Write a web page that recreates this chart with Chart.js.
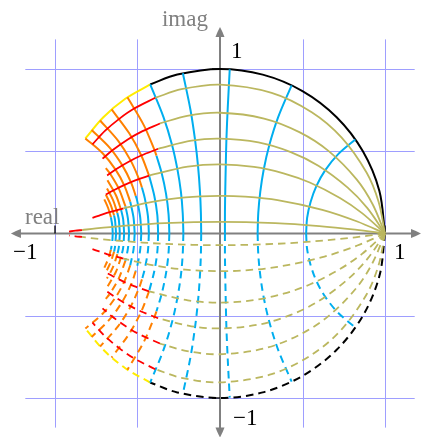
<!DOCTYPE html>
<html>
<head>
<meta charset="utf-8">
<script src="https://cdn.jsdelivr.net/npm/chart.js@4.4.1/dist/chart.umd.min.js"></script>
<style>
  html, body { margin: 0; padding: 0; background: #ffffff; overflow: hidden; }
  canvas { display: block; }
</style>
</head>
<body>
<canvas id="chart" width="422" height="437"></canvas>
<script>
// Bilinear-transform grid in the unit disk: curves of constant damping ratio
// (0.1, 0.3, 0.5, 0.7, 0.9, 0.99) and constant natural frequency (k·π/10).
// Upper half is drawn solid; the lower half is its mirror image, dashed.
// Points are [real, imag].

// constant damping, |Im s| <= pi/2  (olive)
const dampingLow = [
  [[1,0],[0.961,0.193],[0.889,0.369],[0.736,0.584],[0.556,0.737],[0.313,0.855],[0,0.905],[-0.234,0.877],[-0.392,0.825]],
  [[1,0],[0.925,0.178],[0.828,0.329],[0.659,0.501],[0.484,0.615],[0.267,0.699],[0,0.734],[-0.199,0.715],[-0.364,0.669]],
  [[1,0],[0.892,0.156],[0.774,0.279],[0.596,0.412],[0.429,0.495],[0.233,0.554],[0,0.577],[-0.173,0.564],[-0.375,0.515]],
  [[1,0],[0.861,0.124],[0.727,0.216],[0.544,0.310],[0.385,0.366],[0.206,0.405],[0,0.420],[-0.195,0.406],[-0.430,0.352]],
  [[1,0],[0.832,0.073],[0.620,0.144],[0.349,0.203],[0.150,0.224],[0,0.229],[-0.210,0.220],[-0.411,0.192],[-0.585,0.153]],
  [[1,0],[0.820,0.023],[0.602,0.045],[0.335,0.063],[0,0.071],[-0.335,0.063],[-0.602,0.045],[-0.752,0.031],[-0.836,0.021]]
];

// constant damping, pi/2 < |Im s| <= pi  (red)
const dampingHigh = [
  [[-0.392,0.825],[-0.523,0.758],[-0.611,0.697],[-0.696,0.625],[-0.773,0.542]],
  [[-0.364,0.669],[-0.484,0.615],[-0.559,0.572],[-0.650,0.508],[-0.712,0.455]],
  [[-0.375,0.515],[-0.478,0.474],[-0.556,0.435],[-0.628,0.392],[-0.684,0.353]],
  [[-0.430,0.352],[-0.521,0.320],[-0.588,0.291],[-0.647,0.261],[-0.692,0.237]],
  [[-0.585,0.153],[-0.686,0.125],[-0.732,0.109],[-0.773,0.095]],
  [[-0.836,0.021],[-0.876,0.017],[-0.915,0.012]]
];

// constant natural frequency, |Im s| <= pi/2  (cyan)
const freqLow = [
  [[0.522,0],[0.528,0.095],[0.549,0.191],[0.584,0.288],[0.638,0.385],[0.715,0.481],[0.820,0.572]],
  [[0.228,0],[0.232,0.125],[0.244,0.253],[0.265,0.389],[0.299,0.538],[0.352,0.706],[0.434,0.901]],
  [[0.030,0],[0.030,0.132],[0.032,0.268],[0.035,0.414],[0.039,0.577],[0.047,0.766],[0.059,0.998]],
  [[-0.114,0],[-0.116,0.130],[-0.122,0.264],[-0.133,0.408],[-0.151,0.567],[-0.179,0.752],[-0.225,0.974]],
  [[-0.222,0],[-0.226,0.125],[-0.237,0.254],[-0.258,0.390],[-0.291,0.540],[-0.343,0.709],[-0.423,0.906]],
  [[-0.307,0],[-0.312,0.119],[-0.327,0.241],[-0.354,0.369],[-0.385,0.473]],
  [[-0.375,0],[-0.380,0.113],[-0.398,0.228],[-0.430,0.352]],
  [[-0.431,0],[-0.437,0.107],[-0.456,0.215],[-0.473,0.279]],
  [[-0.477,0],[-0.484,0.101],[-0.503,0.204],[-0.511,0.229]],
  [[-0.517,0],[-0.524,0.096],[-0.544,0.193]],
  [[-0.551,0],[-0.558,0.091],[-0.573,0.165]],
  [[-0.581,0],[-0.587,0.087],[-0.599,0.142]],
  [[-0.607,0],[-0.613,0.083],[-0.622,0.125]],
  [[-0.630,0],[-0.636,0.079],[-0.642,0.110]],
  [[-0.650,0],[-0.653,0.050],[-0.661,0.098]]
];

// constant natural frequency, pi/2 < |Im s| <= pi  (orange)
const freqHigh = [
  [[-0.385,0.473],[-0.397,0.507],[-0.462,0.659],[-0.561,0.828]],
  [[-0.430,0.352],[-0.477,0.474],[-0.550,0.609],[-0.657,0.754]],
  [[-0.473,0.279],[-0.489,0.327],[-0.541,0.443],[-0.617,0.563],[-0.727,0.687]],
  [[-0.511,0.229],[-0.538,0.308],[-0.592,0.414],[-0.669,0.522],[-0.778,0.629]],
  [[-0.544,0.193],[-0.579,0.290],[-0.633,0.388],[-0.710,0.486],[-0.816,0.578]],
  [[-0.573,0.165],[-0.614,0.274],[-0.667,0.365],[-0.692,0.397]],
  [[-0.599,0.142],[-0.630,0.231],[-0.682,0.324]],
  [[-0.622,0.125],[-0.648,0.203],[-0.685,0.274]],
  [[-0.642,0.110],[-0.662,0.173],[-0.692,0.237]],
  [[-0.661,0.098],[-0.678,0.155],[-0.701,0.208]]
];

// unit circle (zero damping)
const circleLow  = [[1,0],[0.966,0.259],[0.866,0.5],[0.707,0.707],[0.5,0.866],[0.259,0.966],[0,1],[-0.259,0.966],[-0.423,0.906]];
const circleHigh = [[-0.423,0.906],[-0.574,0.819],[-0.707,0.707],[-0.816,0.578]];

// axes, grid, ticks and labels
const gridValues = [-1, -0.5, 0.5, 1];
const gridExtent = 1.18;
const xAxisRange = [-1.267, 1.218];
const yAxisRange = [-1.240, 1.255];
const tickValues = [-1, 1];
const axisNames = [
  { text: 'real', x: -1.182, y: 0.058, align: 'left' },
  { text: 'imag', x: -0.073, y: 1.261, align: 'right' }
];
const tickLabels = [
  { text: '\u22121', x: -1.255, y: -0.155, align: 'left' },
  { text: '1',       x:  1.055, y: -0.155, align: 'left' },
  { text: '1',       x:  0.067, y:  1.067, align: 'left' },
  { text: '\u22121', x:  0.079, y: -1.164, align: 'left' }
];

const COLORS = {
  olive: 'rgb(187,183,95)',
  red: 'rgb(255,0,0)',
  cyan: 'rgb(0,174,239)',
  orange: 'rgb(255,128,0)',
  black: 'rgb(0,0,0)',
  yellow: 'rgb(255,236,0)',
  grid: 'rgb(158,158,255)',
  axis: 'rgb(128,128,128)'
};
const DASH = [7.5, 5];
const FONT = '23px "Liberation Serif", "Times New Roman", serif';

const datasets = [];
function addCurves(curves, color, width, sign) {
  curves.forEach(curve => {
    datasets.push({
      data: curve.map(p => ({ x: p[0], y: sign * p[1] })),
      borderColor: color,
      borderWidth: width,
      borderDash: sign < 0 ? DASH : [],
      showLine: true,
      pointRadius: 0,
      pointHoverRadius: 0,
      tension: 0.33,
      fill: false
    });
  });
}
[1, -1].forEach(sign => {
  addCurves(dampingLow, COLORS.olive, 1.8, sign);
  addCurves(dampingHigh, COLORS.red, 1.8, sign);
  addCurves(freqLow, COLORS.cyan, 2, sign);
  addCurves(freqHigh, COLORS.orange, 2, sign);
  addCurves([circleLow], COLORS.black, 2, sign);
  addCurves([circleHigh], COLORS.yellow, 2, sign);
});

function arrowHead(ctx, tipX, tipY, dx, dy) {
  const L = 10, W = 4.5;
  const bx = tipX - dx * L, by = tipY - dy * L;
  const nx = -dy, ny = dx;
  ctx.beginPath();
  ctx.moveTo(tipX, tipY);
  ctx.quadraticCurveTo(tipX - dx * L * 0.5 + nx * W * 0.6, tipY - dy * L * 0.5 + ny * W * 0.6, bx + nx * W, by + ny * W);
  ctx.lineTo(bx - nx * W, by - ny * W);
  ctx.quadraticCurveTo(tipX - dx * L * 0.5 - nx * W * 0.6, tipY - dy * L * 0.5 - ny * W * 0.6, tipX, tipY);
  ctx.closePath();
  ctx.fill();
}

const framePlugin = {
  id: 'frame',
  beforeDatasetsDraw(chart) {
    const { ctx, scales } = chart;
    const X = v => scales.x.getPixelForValue(v);
    const Y = v => scales.y.getPixelForValue(v);
    ctx.save();
    // grid
    ctx.strokeStyle = COLORS.grid;
    ctx.lineWidth = 1;
    gridValues.forEach(v => {
      const px = Math.round(X(v)) + 0.5;
      ctx.beginPath(); ctx.moveTo(px, Y(gridExtent)); ctx.lineTo(px, Y(-gridExtent)); ctx.stroke();
      const py = Math.round(Y(v)) + 0.5;
      ctx.beginPath(); ctx.moveTo(X(-gridExtent), py); ctx.lineTo(X(gridExtent), py); ctx.stroke();
    });
    // axes with arrow tips on both ends
    ctx.strokeStyle = COLORS.axis;
    ctx.fillStyle = COLORS.axis;
    ctx.lineWidth = 2;
    const y0 = Y(0), x0 = X(0);
    ctx.beginPath(); ctx.moveTo(X(xAxisRange[0]) + 8, y0); ctx.lineTo(X(xAxisRange[1]) - 8, y0); ctx.stroke();
    ctx.beginPath(); ctx.moveTo(x0, Y(yAxisRange[1]) + 8); ctx.lineTo(x0, Y(yAxisRange[0]) - 8); ctx.stroke();
    arrowHead(ctx, X(xAxisRange[0]), y0, -1, 0);
    arrowHead(ctx, X(xAxisRange[1]), y0, 1, 0);
    arrowHead(ctx, x0, Y(yAxisRange[1]), 0, -1);
    arrowHead(ctx, x0, Y(yAxisRange[0]), 0, 1);
    // ticks
    ctx.strokeStyle = COLORS.black;
    ctx.lineWidth = 1.3;
    tickValues.forEach(v => {
      ctx.beginPath(); ctx.moveTo(X(v), y0); ctx.lineTo(X(v), y0 - 8); ctx.stroke();
      ctx.beginPath(); ctx.moveTo(x0, Y(v)); ctx.lineTo(x0 - 8, Y(v)); ctx.stroke();
    });
    ctx.restore();
  },
  afterDatasetsDraw(chart) {
    const { ctx, scales } = chart;
    const X = v => scales.x.getPixelForValue(v);
    const Y = v => scales.y.getPixelForValue(v);
    ctx.save();
    ctx.font = FONT;
    ctx.textBaseline = 'alphabetic';
    ctx.fillStyle = COLORS.axis;
    axisNames.forEach(l => { ctx.textAlign = l.align; ctx.fillText(l.text, X(l.x), Y(l.y)); });
    ctx.fillStyle = COLORS.black;
    tickLabels.forEach(l => { ctx.textAlign = l.align; ctx.fillText(l.text, X(l.x), Y(l.y)); });
    ctx.restore();
  }
};

new Chart(document.getElementById('chart'), {
  type: 'scatter',
  data: { datasets },
  options: {
    responsive: false,
    devicePixelRatio: 1,
    animation: false,
    events: [],
    layout: { padding: 0 },
    plugins: { legend: { display: false }, tooltip: { enabled: false } },
    scales: {
      x: { type: 'linear', display: false, min: -1.33333, max: 1.22424 },
      y: { type: 'linear', display: false, min: -1.23708, max: 1.41945 }
    }
  },
  plugins: [framePlugin]
});
</script>
</body>
</html>
